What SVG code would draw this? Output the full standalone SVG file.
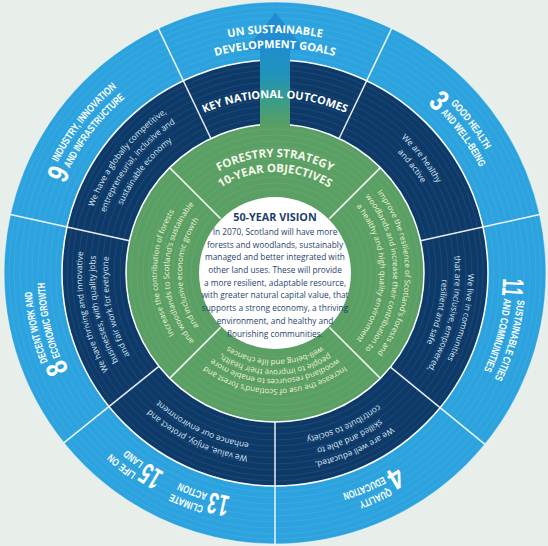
<svg xmlns="http://www.w3.org/2000/svg" width="548" height="546" viewBox="0 0 548 546">
<style>
.sdg{font-family:"Open Sans","Noto Sans",sans-serif;font-weight:700;font-size:11px;fill:#ffffff;text-anchor:middle}
.goal{font-family:"Liberation Sans","Arial",sans-serif;font-weight:700;font-size:10.5px;fill:#ffffff;text-anchor:start}
.num{font-family:"Liberation Sans","Arial",sans-serif;font-weight:700;font-size:30px;fill:#ffffff;text-anchor:end}
.ko{font-family:"Open Sans","Noto Sans",sans-serif;font-size:8.3px;fill:#dbe8f2;text-anchor:middle}
.gr{font-family:"Open Sans","Noto Sans",sans-serif;font-size:7.9px;fill:#eef2d4;text-anchor:middle}
.grt{font-family:"Open Sans","Noto Sans",sans-serif;font-weight:700;font-size:11.5px;fill:#f4f7ea;text-anchor:middle}
.vt{font-family:"Open Sans","Noto Sans",sans-serif;font-weight:700;font-size:10.8px;fill:#1c3d6b;text-anchor:middle}
.vb{font-family:"Open Sans","Noto Sans",sans-serif;font-size:8.3px;fill:#1f3f6c;text-anchor:middle}
.stripe{fill:none;stroke:#ffffff;stroke-opacity:0.07;stroke-width:1}
.div{stroke:#ffffff;stroke-width:1.5;stroke-opacity:0.9}
</style>
<defs>
<linearGradient id="arrowGrad" x1="0" y1="45" x2="0" y2="127" gradientUnits="userSpaceOnUse">
<stop offset="0" stop-color="#1f8dd0"/>
<stop offset="0.35" stop-color="#1f93bb"/>
<stop offset="0.7" stop-color="#3c9d86"/>
<stop offset="1" stop-color="#5a9f63"/>
</linearGradient>
<path id="p240" d="M35,273 A240,240 0 0 1 515,273"/>
<path id="p225" d="M50,273 A225,225 0 0 1 500,273"/>
<path id="p244" d="M31,273 A244,244 0 0 1 519,273"/>
<path id="p230" d="M44.5,273 A230.5,230.5 0 0 1 505.5,273"/>
<path id="p228" d="M47,273 A228,228 0 0 1 503,273"/>
<path id="p175" d="M100,273 A175,175 0 0 1 450,273"/>
<path id="p193" d="M82,273 A193,193 0 0 1 468,273"/>
<path id="p180" d="M95,273 A180,180 0 0 1 455,273"/>
<path id="p167" d="M108,273 A167,167 0 0 1 442,273"/>
<path id="p185" d="M90,273 A185,185 0 0 1 460,273"/>
<path id="p172" d="M103,273 A172,172 0 0 1 447,273"/>
<path id="p130" d="M145,273 A130,130 0 0 1 405,273"/>
<path id="p118" d="M157,273 A118,118 0 0 1 393,273"/>
<path id="p116" d="M159,273 A116,116 0 0 1 391,273"/>
<path id="p106" d="M169,273 A106,106 0 0 1 381,273"/>
<path id="p105" d="M170,273 A105,105 0 0 1 380,273"/>
<path id="p101" d="M174,273 A101,101 0 0 1 376,273"/>
<path id="p97" d="M178,273 A97,97 0 0 1 372,273"/>
<path id="p93" d="M182,273 A93,93 0 0 1 368,273"/>
<path id="p87" d="M188,273 A87,87 0 0 1 362,273"/>
</defs>
<rect x="0" y="0" width="548" height="546" fill="#e8eee9"/>
<g id="rings">
<circle cx="275" cy="273" r="271" fill="#2ca3de" stroke="#ffffff" stroke-opacity="0.5" stroke-width="1.2"/>
<circle cx="275" cy="273" r="213" fill="#0d3a69" stroke="#ffffff" stroke-width="1.5"/>
<circle cx="275" cy="273" r="149" fill="#5a9f63" stroke="#ffffff" stroke-width="1.5"/>
<g>
<circle class="stripe" cx="275" cy="273" r="219"/><circle class="stripe" cx="275" cy="273" r="225"/><circle class="stripe" cx="275" cy="273" r="231"/><circle class="stripe" cx="275" cy="273" r="237"/><circle class="stripe" cx="275" cy="273" r="243"/><circle class="stripe" cx="275" cy="273" r="249"/><circle class="stripe" cx="275" cy="273" r="255"/><circle class="stripe" cx="275" cy="273" r="261"/><circle class="stripe" cx="275" cy="273" r="266"/>
<circle class="stripe" cx="275" cy="273" r="155"/><circle class="stripe" cx="275" cy="273" r="161"/><circle class="stripe" cx="275" cy="273" r="167"/><circle class="stripe" cx="275" cy="273" r="173"/><circle class="stripe" cx="275" cy="273" r="179"/><circle class="stripe" cx="275" cy="273" r="185"/><circle class="stripe" cx="275" cy="273" r="191"/><circle class="stripe" cx="275" cy="273" r="197"/><circle class="stripe" cx="275" cy="273" r="203"/><circle class="stripe" cx="275" cy="273" r="208"/>
<circle class="stripe" cx="275" cy="273" r="84"/><circle class="stripe" cx="275" cy="273" r="90"/><circle class="stripe" cx="275" cy="273" r="96"/><circle class="stripe" cx="275" cy="273" r="102"/><circle class="stripe" cx="275" cy="273" r="108"/><circle class="stripe" cx="275" cy="273" r="114"/><circle class="stripe" cx="275" cy="273" r="120"/><circle class="stripe" cx="275" cy="273" r="126"/><circle class="stripe" cx="275" cy="273" r="132"/><circle class="stripe" cx="275" cy="273" r="138"/><circle class="stripe" cx="275" cy="273" r="144"/>
</g>
<circle cx="275" cy="273" r="76" fill="#ffffff"/>
<g id="dividers">
<line class="div" x1="339.1" y1="138.5" x2="391.7" y2="28.4"/>
<line class="div" x1="210.9" y1="138.5" x2="158.3" y2="28.4"/>
<line class="div" x1="420.5" y1="240.8" x2="539.6" y2="214.4"/>
<line class="div" x1="129.5" y1="240.8" x2="10.4" y2="214.4"/>
<line class="div" x1="390.5" y1="367.2" x2="485" y2="444.3"/>
<line class="div" x1="158.9" y1="366.4" x2="63.8" y2="442.8"/>
<line class="div" x1="275" y1="422" x2="275" y2="544"/>
<line class="div" x1="329.4" y1="218.6" x2="380.4" y2="167.6"/>
<line class="div" x1="329.4" y1="327.4" x2="380.4" y2="378.4"/>
<line class="div" x1="220.6" y1="327.4" x2="169.6" y2="378.4"/>
<line class="div" x1="220.6" y1="218.6" x2="169.6" y2="167.6"/>
</g>
</g>
<g id="connectors">
<rect x="260" y="48" width="30" height="79" fill="url(#arrowGrad)"/>
<polygon points="246,50 305,50 275.5,12.5" fill="#1f8dd0"/>
</g>
<g id="sdg-goals">
<text class="sdg"><textPath href="#p240" startOffset="50%">UN SUSTAINABLE</textPath></text>
<text class="sdg"><textPath href="#p225" startOffset="50%">DEVELOPMENT GOALS</textPath></text>
</g>
<g id="sdg-3">
<g transform="rotate(45.2,275,273)"><text class="num"><textPath href="#p228" startOffset="50%" textLength="13" lengthAdjust="spacingAndGlyphs">3</textPath></text></g>
<g transform="rotate(46,275,273)"><text class="goal"><textPath href="#p244" startOffset="50%" textLength="58" lengthAdjust="spacingAndGlyphs">GOOD HEALTH</textPath></text><text class="goal"><textPath href="#p230" startOffset="50%" textLength="67" lengthAdjust="spacingAndGlyphs">AND WELL-BEING</textPath></text></g>
</g>
<g id="sdg-11">
<g transform="rotate(95.6,275,273)"><text class="num"><textPath href="#p228" startOffset="50%" textLength="17" lengthAdjust="spacingAndGlyphs">11</textPath></text></g>
<g transform="rotate(96.3,275,273)"><text class="goal"><textPath href="#p244" startOffset="50%" textLength="83" lengthAdjust="spacingAndGlyphs">SUSTAINABLE CITIES</textPath></text><text class="goal"><textPath href="#p230" startOffset="50%" textLength="75" lengthAdjust="spacingAndGlyphs">AND COMMUNITIES</textPath></text></g>
</g>
<g id="sdg-4">
<g transform="rotate(151.2,275,273)"><text class="num"><textPath href="#p228" startOffset="50%" textLength="14" lengthAdjust="spacingAndGlyphs">4</textPath></text></g>
<g transform="rotate(152,275,273)"><text class="goal"><textPath href="#p244" startOffset="50%" textLength="34" lengthAdjust="spacingAndGlyphs">QUALITY</textPath></text><text class="goal"><textPath href="#p230" startOffset="50%" textLength="44" lengthAdjust="spacingAndGlyphs">EDUCATION</textPath></text></g>
</g>
<g id="sdg-13">
<g transform="rotate(196.3,275,273)"><text class="num"><textPath href="#p228" startOffset="50%" textLength="20" lengthAdjust="spacingAndGlyphs">13</textPath></text></g>
<g transform="rotate(197,275,273)"><text class="goal"><textPath href="#p244" startOffset="50%" textLength="35" lengthAdjust="spacingAndGlyphs">CLIMATE</textPath></text><text class="goal"><textPath href="#p230" startOffset="50%" textLength="30" lengthAdjust="spacingAndGlyphs">ACTION</textPath></text></g>
</g>
<g id="sdg-15">
<g transform="rotate(214,275,273)"><text class="num"><textPath href="#p228" startOffset="50%" textLength="20" lengthAdjust="spacingAndGlyphs">15</textPath></text></g>
<g transform="rotate(214.7,275,273)"><text class="goal"><textPath href="#p244" startOffset="50%" textLength="32" lengthAdjust="spacingAndGlyphs">LIFE ON</textPath></text><text class="goal"><textPath href="#p230" startOffset="50%" textLength="21" lengthAdjust="spacingAndGlyphs">LAND</textPath></text></g>
</g>
<g id="sdg-8">
<g transform="rotate(248,275,273)"><text class="num"><textPath href="#p228" startOffset="50%" textLength="13" lengthAdjust="spacingAndGlyphs">8</textPath></text></g>
<g transform="rotate(248.7,275,273)"><text class="goal"><textPath href="#p244" startOffset="50%" textLength="72" lengthAdjust="spacingAndGlyphs">DECENT WORK AND</textPath></text><text class="goal"><textPath href="#p230" startOffset="50%" textLength="76" lengthAdjust="spacingAndGlyphs">ECONOMIC GROWTH</textPath></text></g>
</g>
<g id="sdg-9">
<g transform="rotate(296.2,275,273)"><text class="num"><textPath href="#p228" startOffset="50%" textLength="13" lengthAdjust="spacingAndGlyphs">9</textPath></text></g>
<g transform="rotate(297,275,273)"><text class="goal"><textPath href="#p244" startOffset="50%" textLength="96" lengthAdjust="spacingAndGlyphs">INDUSTRY, INNOVATION</textPath></text><text class="goal"><textPath href="#p230" startOffset="50%" textLength="90" lengthAdjust="spacingAndGlyphs">AND INFRASTRUCTURE</textPath></text></g>
</g>
<g id="key-national-outcomes">
<text class="sdg"><textPath href="#p175" startOffset="50%">KEY NATIONAL OUTCOMES</textPath></text>
</g>
<g id="outcome-healthy" transform="rotate(52,275,273)">
<text class="ko"><textPath href="#p185" startOffset="50%">We are healthy</textPath></text>
<text class="ko"><textPath href="#p172" startOffset="50%">and active</textPath></text>
</g>
<g id="outcome-communities" transform="rotate(103.5,275,273)">
<text class="ko"><textPath href="#p193" startOffset="50%">We live in communities</textPath></text>
<text class="ko"><textPath href="#p180" startOffset="50%">that are inclusive, empowered,</textPath></text>
<text class="ko"><textPath href="#p167" startOffset="50%">resilient and safe</textPath></text>
</g>
<g id="outcome-educated" transform="rotate(155.5,275,273)">
<text class="ko"><textPath href="#p193" startOffset="50%">We are well educated,</textPath></text>
<text class="ko"><textPath href="#p180" startOffset="50%">skilled and able to</textPath></text>
<text class="ko"><textPath href="#p167" startOffset="50%">contribute to society</textPath></text>
</g>
<g id="outcome-environment" transform="rotate(205.5,275,273)">
<text class="ko"><textPath href="#p185" startOffset="50%">We value, enjoy, protect and</textPath></text>
<text class="ko"><textPath href="#p172" startOffset="50%">enhance our environment</textPath></text>
</g>
<g id="outcome-business" transform="rotate(258,275,273)">
<text class="ko"><textPath href="#p193" startOffset="50%">We have thriving and innovative</textPath></text>
<text class="ko"><textPath href="#p180" startOffset="50%">businesses, with quality jobs</textPath></text>
<text class="ko"><textPath href="#p167" startOffset="50%">and fair work for everyone</textPath></text>
</g>
<g id="outcome-economy" transform="rotate(308,275,273)">
<text class="ko"><textPath href="#p193" startOffset="50%">We have a globally competitive,</textPath></text>
<text class="ko"><textPath href="#p180" startOffset="50%">entrepreneurial, inclusive and</textPath></text>
<text class="ko"><textPath href="#p167" startOffset="50%">sustainable economy</textPath></text>
</g>
<g id="forestry-objectives">
<text class="grt"><textPath href="#p116" startOffset="50%">FORESTRY STRATEGY</textPath></text>
<text class="grt"><textPath href="#p101" startOffset="50%">10-YEAR OBJECTIVES</textPath></text>
</g>
<g id="objective-environment" transform="rotate(90,275,273)">
<text class="gr"><textPath href="#p130" startOffset="50%">Improve the resilience of Scotland’s forests and</textPath></text>
<text class="gr"><textPath href="#p118" startOffset="50%">woodlands and increase their contribution to</textPath></text>
<text class="gr"><textPath href="#p105" startOffset="50%">a healthy and high quality environment</textPath></text>
</g>
<g id="objective-people" transform="rotate(180,275,273)">
<text class="gr"><textPath href="#p116" startOffset="50%">Increase the use of Scotland’s forest and</textPath></text>
<text class="gr"><textPath href="#p106" startOffset="50%">woodland resources to enable more</textPath></text>
<text class="gr"><textPath href="#p97" startOffset="50%">people to improve their health,</textPath></text>
<text class="gr"><textPath href="#p87" startOffset="50%">well-being and life chances</textPath></text>
</g>
<g id="objective-economy" transform="rotate(270,275,273)">
<text class="gr"><textPath href="#p118" startOffset="50%">Increase the contribution of forests</textPath></text>
<text class="gr"><textPath href="#p106" startOffset="50%">and woodlands to Scotland’s sustainable</textPath></text>
<text class="gr"><textPath href="#p93" startOffset="50%">and inclusive economic growth</textPath></text>
</g>
<g id="vision">
<text class="vt" x="275" y="221">50-YEAR VISION</text>
<text class="vb" x="275" y="235">In 2070, Scotland will have more</text>
<text class="vb" x="275" y="247.5">forests and woodlands, sustainably</text>
<text class="vb" x="275" y="260">managed and better integrated with</text>
<text class="vb" x="275" y="273">other land uses. These will provide</text>
<text class="vb" x="275" y="285.5">a more resilient, adaptable resource,</text>
<text class="vb" x="275" y="298">with greater natural capital value, that</text>
<text class="vb" x="275" y="311">supports a strong economy, a thriving</text>
<text class="vb" x="275" y="324">environment, and healthy and</text>
<text class="vb" x="275" y="337">flourishing communities.</text>
</g>
</svg>
